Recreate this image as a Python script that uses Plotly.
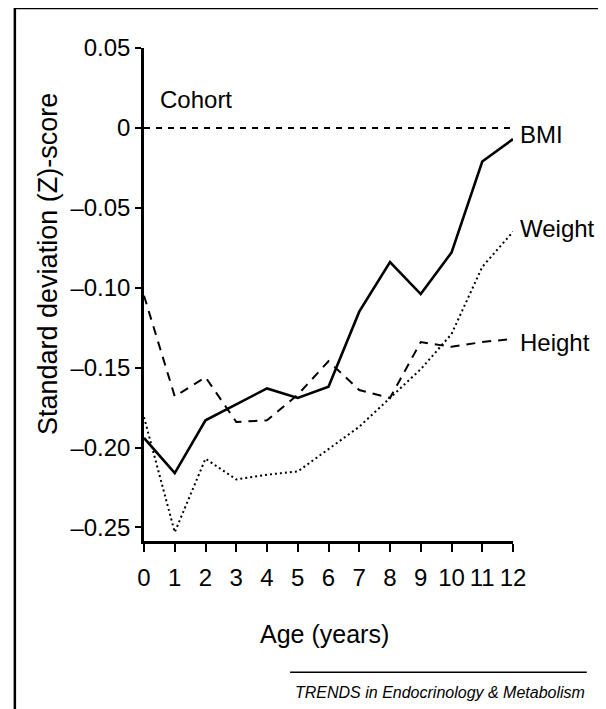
import plotly.graph_objects as go

# Z-scores, ages 0-12
age = list(range(13))
bmi = [-0.194, -0.216, -0.183, -0.173, -0.163, -0.169, -0.162, -0.115, -0.084, -0.104, -0.078, -0.021, -0.007]
weight = [-0.181, -0.253, -0.207, -0.220, -0.217, -0.215, -0.201, -0.187, -0.169, -0.151, -0.129, -0.087, -0.065]
height = [-0.105, -0.168, -0.156, -0.184, -0.183, -0.167, -0.146, -0.164, -0.169, -0.134, -0.137, -0.134, -0.132]
cohort = [0.0] * 13

y_ticks = [0.05, 0, -0.05, -0.10, -0.15, -0.20, -0.25]
y_ticktext = ["0.05", "0", "–0.05", "–0.10", "–0.15", "–0.20", "–0.25"]
x_ticks = list(range(13))

series_labels = ["BMI", "Weight", "Height"]
label_y = [-0.004, -0.063, -0.134]

FONT = "Liberation Sans, Arial, sans-serif"

fig = go.Figure()

fig.add_trace(go.Scatter(x=age, y=cohort, mode="lines", name="Cohort",
                         line=dict(color="black", width=2, dash="6px,6px"),
                         cliponaxis=False))
fig.add_trace(go.Scatter(x=age, y=height, mode="lines", name="Height",
                         line=dict(color="black", width=2, dash="9px,7px"),
                         cliponaxis=False))
fig.add_trace(go.Scatter(x=age, y=weight, mode="lines", name="Weight",
                         line=dict(color="black", width=2, dash="2px,3px"),
                         cliponaxis=False))
fig.add_trace(go.Scatter(x=age, y=bmi, mode="lines", name="BMI",
                         line=dict(color="black", width=2.6),
                         cliponaxis=False))

# labels at the line ends
for name, yv in zip(series_labels, label_y):
    fig.add_annotation(x=12, y=yv, xref="x", yref="y", text=name, showarrow=False,
                       xanchor="left", xshift=5, font=dict(family=FONT, size=24, color="black"))

fig.add_annotation(x=0.45, y=0.018, xref="x", yref="y", text="Cohort", showarrow=False,
                   xanchor="left", font=dict(family=FONT, size=24, color="black"))

# y-axis title, rotated
fig.add_annotation(x=-0.26, y=0.562, xref="paper", yref="paper", text="Standard deviation (Z)-score",
                   textangle=-90, showarrow=False, xanchor="center", yanchor="middle",
                   font=dict(family=FONT, size=27, color="black"))

fig.add_annotation(x=0.49, y=-0.189, xref="paper", yref="paper", text="Age (years)",
                   showarrow=False, xanchor="center", yanchor="middle",
                   font=dict(family=FONT, size=25, color="black"))

# journal credit with rule above it
fig.add_annotation(x=1.2, y=-0.307, xref="paper", yref="paper",
                   text="<i>TRENDS in Endocrinology &amp; Metabolism</i>",
                   showarrow=False, xanchor="right", yanchor="middle",
                   font=dict(family=FONT, size=16, color="black"))
fig.add_shape(type="line", xref="paper", yref="paper", x0=0.396, x1=1.2, y0=-0.266, y1=-0.266,
              line=dict(color="black", width=1.5))

# outer frame (left and top edges of the scanned panel)
fig.add_shape(type="line", xref="paper", yref="paper", x0=-0.35, x1=-0.35, y0=1.081, y1=-0.4,
              line=dict(color="black", width=2.5))
fig.add_shape(type="line", xref="paper", yref="paper", x0=-0.35, x1=1.3, y0=1.081, y1=1.081,
              line=dict(color="black", width=2.5))

fig.update_xaxes(range=[0, 12], tickvals=x_ticks, ticks="outside", ticklen=8, tickwidth=2,
                 tickcolor="black", showline=True, linecolor="black", linewidth=2.5,
                 showgrid=False, zeroline=False, ticklabelstandoff=5,
                 tickfont=dict(family=FONT, size=24, color="black"))
fig.update_yaxes(range=[-0.2585, 0.05], tickvals=y_ticks, ticktext=y_ticktext, ticks="outside",
                 ticklen=6, tickwidth=2, tickcolor="black", showline=True, linecolor="black",
                 linewidth=2.5, showgrid=False, zeroline=False,
                 tickfont=dict(family=FONT, size=24, color="black"))

# the page adds an 8px body margin, so the figure is 8px smaller than the window
fig.update_layout(
    width=598, height=701,
    margin=dict(l=136, r=93, t=40, b=168),
    plot_bgcolor="white", paper_bgcolor="white",
    showlegend=False,
)

fig.write_html("out.html")
